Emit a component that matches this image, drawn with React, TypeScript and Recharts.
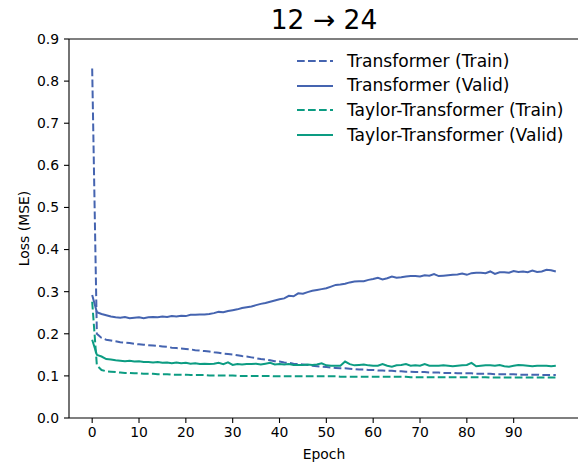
import React from "react";
import { LineChart, Line, XAxis, YAxis, ReferenceLine, Legend } from "recharts";

const epochs: number[] = Array.from({ length: 100 }, (_, i) => i);

const transformerTrain: number[] = [
  0.83, 0.2, 0.19, 0.186, 0.184, 0.182, 0.18, 0.179, 0.178, 0.176,
  0.175, 0.174, 0.173, 0.172, 0.171, 0.17, 0.169, 0.167, 0.166, 0.165,
  0.164, 0.163, 0.161, 0.16, 0.159, 0.158, 0.156, 0.155, 0.153, 0.152,
  0.151, 0.149, 0.147, 0.146, 0.144, 0.142, 0.14, 0.139, 0.137, 0.135,
  0.134, 0.132, 0.131, 0.129, 0.128, 0.127, 0.126, 0.124, 0.123, 0.122,
  0.121, 0.12, 0.119, 0.118, 0.118, 0.117, 0.116, 0.115, 0.115, 0.114,
  0.114, 0.113, 0.113, 0.112, 0.112, 0.111, 0.111, 0.11, 0.11, 0.109,
  0.109, 0.109, 0.108, 0.108, 0.108, 0.107, 0.107, 0.107, 0.106, 0.106,
  0.106, 0.106, 0.105, 0.105, 0.105, 0.105, 0.104, 0.104, 0.104, 0.104,
  0.104, 0.103, 0.103, 0.103, 0.103, 0.103, 0.102, 0.102, 0.102, 0.102,
];

const transformerValid: number[] = [
  0.292, 0.251, 0.247, 0.244, 0.241, 0.239, 0.238, 0.24, 0.237, 0.238,
  0.239, 0.237, 0.239, 0.24, 0.239, 0.241, 0.24, 0.242, 0.241, 0.243,
  0.242, 0.245, 0.245, 0.246, 0.246, 0.247, 0.249, 0.252, 0.251, 0.254,
  0.256, 0.258, 0.261, 0.263, 0.265, 0.268, 0.271, 0.273, 0.276, 0.279,
  0.282, 0.284, 0.29, 0.289, 0.296, 0.295, 0.299, 0.302, 0.304, 0.306,
  0.308, 0.312, 0.316, 0.317, 0.319, 0.322, 0.324, 0.325, 0.325, 0.328,
  0.33, 0.333, 0.329, 0.332, 0.336, 0.333, 0.334, 0.336, 0.337, 0.337,
  0.336, 0.339, 0.338, 0.342, 0.337, 0.338, 0.339, 0.34, 0.341, 0.343,
  0.34, 0.344, 0.345, 0.345, 0.344, 0.348, 0.342, 0.346, 0.346, 0.345,
  0.349, 0.347, 0.348, 0.346, 0.35, 0.347, 0.348, 0.352, 0.351, 0.348,
];

const taylorTrain: number[] = [
  0.276, 0.125, 0.114, 0.111, 0.11, 0.109, 0.108, 0.107, 0.107, 0.106,
  0.106, 0.105, 0.105, 0.105, 0.104, 0.104, 0.104, 0.103, 0.103, 0.103,
  0.103, 0.102, 0.102, 0.102, 0.102, 0.101, 0.101, 0.101, 0.101, 0.101,
  0.101, 0.1, 0.1, 0.1, 0.1, 0.1, 0.1, 0.1, 0.1, 0.099,
  0.099, 0.099, 0.099, 0.099, 0.099, 0.099, 0.099, 0.099, 0.099, 0.099,
  0.099, 0.099, 0.099, 0.098, 0.098, 0.098, 0.098, 0.098, 0.098, 0.098,
  0.098, 0.098, 0.098, 0.098, 0.098, 0.098, 0.098, 0.098, 0.097, 0.097,
  0.097, 0.097, 0.097, 0.097, 0.097, 0.097, 0.097, 0.097, 0.097, 0.097,
  0.097, 0.097, 0.097, 0.097, 0.097, 0.096, 0.096, 0.096, 0.096, 0.096,
  0.096, 0.096, 0.096, 0.096, 0.096, 0.096, 0.096, 0.096, 0.096, 0.096,
];

const taylorValid: number[] = [
  0.186, 0.15, 0.146, 0.14, 0.139, 0.137, 0.136, 0.135, 0.136, 0.134,
  0.135, 0.133, 0.133, 0.132, 0.133, 0.131, 0.132, 0.13, 0.132, 0.13,
  0.131, 0.129, 0.13, 0.128, 0.129, 0.128, 0.129, 0.131, 0.128, 0.132,
  0.126, 0.128, 0.127, 0.128, 0.128, 0.129, 0.127, 0.129, 0.131, 0.127,
  0.128, 0.127, 0.128, 0.126, 0.126, 0.126, 0.127, 0.126, 0.127, 0.13,
  0.125, 0.124, 0.124, 0.124, 0.134, 0.128, 0.125, 0.126, 0.127, 0.125,
  0.124, 0.124, 0.128, 0.124, 0.122, 0.125, 0.126, 0.128, 0.124, 0.125,
  0.124, 0.128, 0.124, 0.124, 0.124, 0.125, 0.124, 0.123, 0.124, 0.125,
  0.126, 0.131, 0.123, 0.124, 0.125, 0.125, 0.124, 0.126, 0.123, 0.122,
  0.124, 0.126, 0.125, 0.124, 0.123, 0.124, 0.124, 0.124, 0.123, 0.124,
];

const xTicks: number[] = [0, 10, 20, 30, 40, 50, 60, 70, 80, 90];
const yTicks: number[] = [0, 0.1, 0.2, 0.3, 0.4, 0.5, 0.6, 0.7, 0.8, 0.9];

const BLUE = "#4564b0";
const TEAL = "#0c9c82";
const DASH = "7.7 3.3";
const FONT = "'DejaVu Sans', sans-serif";

const series = [
  { key: "tTrain", name: "Transformer (Train)", color: BLUE, dashed: true, values: transformerTrain },
  { key: "tValid", name: "Transformer (Valid)", color: BLUE, dashed: false, values: transformerValid },
  { key: "ttTrain", name: "Taylor-Transformer (Train)", color: TEAL, dashed: true, values: taylorTrain },
  { key: "ttValid", name: "Taylor-Transformer (Valid)", color: TEAL, dashed: false, values: taylorValid },
];

const data = epochs.map((e, i) => {
  const row: Record<string, number> = { epoch: e };
  series.forEach((s) => {
    row[s.key] = s.values[i];
  });
  return row;
});

const LegendContent = () => (
  <div style={{ fontFamily: FONT, fontSize: 17.1, color: "#000" }}>
    {series.map((s) => (
      <div key={s.key} style={{ display: "flex", alignItems: "center", height: 24.7 }}>
        <svg width={36} height={6} style={{ display: "block" }}>
          <line
            x1={0}
            y1={3}
            x2={36}
            y2={3}
            stroke={s.color}
            strokeWidth={2}
            strokeDasharray={s.dashed ? DASH : undefined}
          />
        </svg>
        <span style={{ marginLeft: 14, whiteSpace: "nowrap", lineHeight: "24.7px" }}>{s.name}</span>
      </div>
    ))}
  </div>
);

const YLabel = (props: any) => {
  const vb = props.viewBox || {};
  const cy = (vb.y || 0) + (vb.height || 0) / 2;
  return (
    <text
      x={24}
      y={cy}
      transform={`rotate(-90, 24, ${cy})`}
      textAnchor="middle"
      dominantBaseline="central"
      fontFamily={FONT}
      fontSize={13.9}
      fill="#000"
    >
      Loss (MSE)
    </text>
  );
};

export default function App() {
  return (
    <div
      style={{
        position: "absolute",
        left: 0,
        top: 0,
        width: 578,
        height: 462,
        overflow: "hidden",
        background: "#fff",
      }}
    >
      <div
        style={{
          position: "absolute",
          left: 69,
          width: 510,
          top: 4,
          textAlign: "center",
          fontFamily: FONT,
          fontSize: 26.5,
          lineHeight: "32px",
          color: "#000",
          zIndex: 2,
        }}
      >
        12 → 24
      </div>
      <LineChart
        width={580}
        height={462}
        data={data}
        margin={{ top: 39, right: 1, bottom: 0, left: 19 }}
      >
        <XAxis
          dataKey="epoch"
          type="number"
          domain={[-4.95, 103.95]}
          ticks={xTicks}
          allowDataOverflow
          height={44}
          tickSize={5}
          tickMargin={4}
          stroke="#000"
          axisLine={{ stroke: "#000", strokeWidth: 1.1 }}
          tickLine={{ stroke: "#000", strokeWidth: 1.1 }}
          tick={{ fill: "#000", fontFamily: FONT, fontSize: 13.9 }}
          label={{
            value: "Epoch",
            position: "insideBottom",
            offset: 3,
            fill: "#000",
            fontFamily: FONT,
            fontSize: 13.9,
          }}
        />
        <YAxis
          type="number"
          domain={[0, 0.9]}
          ticks={yTicks}
          allowDataOverflow
          width={50}
          tickSize={5}
          tickMargin={5}
          tickFormatter={(v: number) => v.toFixed(1)}
          axisLine={{ stroke: "#000", strokeWidth: 1.1 }}
          tickLine={{ stroke: "#000", strokeWidth: 1.1 }}
          tick={{ fill: "#000", fontFamily: FONT, fontSize: 13.9 }}
          label={<YLabel />}
        />
        <ReferenceLine y={0.9} stroke="#000" strokeWidth={1.1} ifOverflow="visible" />
        {series.map((s) => (
          <Line
            key={s.key}
            dataKey={s.key}
            name={s.name}
            type="linear"
            stroke={s.color}
            strokeWidth={2}
            strokeDasharray={s.dashed ? DASH : undefined}
            dot={false}
            activeDot={false}
            isAnimationActive={false}
          />
        ))}
        <Legend
          layout="horizontal"
          verticalAlign="middle"
          align="center"
          content={<LegendContent />}
          wrapperStyle={{ position: "absolute", top: 48.5, left: 297, width: "auto", height: "auto" }}
        />
      </LineChart>
    </div>
  );
}
